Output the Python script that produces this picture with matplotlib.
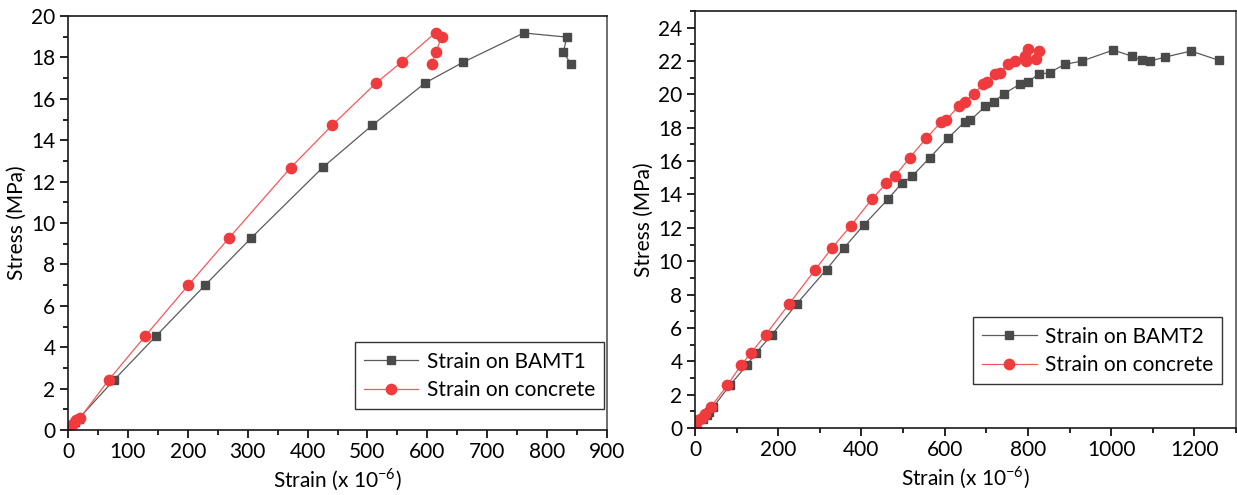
import matplotlib
matplotlib.use("Agg")
import matplotlib.pyplot as plt
from matplotlib.ticker import MultipleLocator

plt.rcParams['font.family'] = ['Lato', 'DejaVu Sans']

# ---- Left chart data (BAMT1) ----
bamt1_strain = [0, 12, 18, 77, 147, 229, 306, 426, 508, 596, 660, 761, 833, 827, 840]
bamt1_stress = [0, 0.40, 0.55, 2.42, 4.54, 7.00, 9.28, 12.70, 14.72, 16.76, 17.77, 19.18, 18.98, 18.25, 17.68]
conc1_strain = [0, 8, 14, 20, 68, 129, 201, 269, 372, 441, 515, 557, 614, 624, 614, 607]
conc1_stress = [0, 0.30, 0.48, 0.58, 2.42, 4.54, 7.00, 9.28, 12.68, 14.72, 16.78, 17.77, 19.20, 19.00, 18.24, 17.67]

# ---- Right chart data (BAMT2) ----
bamt2_strain = [0, 20, 28, 34, 44, 84, 124, 146, 185, 244, 316, 359, 405, 463, 498, 522,
                564, 609, 648, 662, 698, 718, 743, 780, 799, 826, 852, 888, 930, 1005,
                1049, 1073, 1094, 1130, 1192, 1258]
bamt2_stress = [0, 0.55, 0.75, 0.95, 1.26, 2.57, 3.75, 4.49, 5.60, 7.43, 9.50, 10.82, 12.15,
                13.70, 14.70, 15.10, 16.20, 17.40, 18.35, 18.45, 19.30, 19.55, 20.05, 20.60,
                20.75, 21.20, 21.30, 21.80, 22.00, 22.66, 22.30, 22.05, 22.00, 22.24, 22.60, 22.05]
conc2_strain = [2, 8, 16, 24, 38, 78, 110, 134, 170, 226, 289, 330, 375, 425, 460, 480, 516,
                556, 592, 604, 634, 648, 671, 691, 701, 722, 732, 752, 768, 794, 800, 796,
                820, 826]
conc2_stress = [0.02, 0.46, 0.62, 0.86, 1.26, 2.57, 3.75, 4.49, 5.60, 7.43, 9.50, 10.82, 12.14,
                13.72, 14.68, 15.10, 16.20, 17.39, 18.35, 18.49, 19.30, 19.55, 20.05, 20.60,
                20.75, 21.20, 21.30, 21.80, 22.00, 22.30, 22.70, 22.00, 22.10, 22.60]

gray_line = '#5a5a5a'
gray_mk = '#4a4a4a'
red_line = '#f25a5a'
red_mk = '#ef3b3d'

FS = 15

fig = plt.figure(figsize=(12.37, 4.95), dpi=100)
ax1 = fig.add_axes([68/1237, 1-430/495, (607-68)/1237, (430-16)/495])
ax2 = fig.add_axes([695/1237, 1-428/495, (1236-695)/1237, (428-11)/495])


def style(ax, xmaj, xmin, ymaj, ymin):
    ax.xaxis.set_major_locator(MultipleLocator(xmaj))
    ax.xaxis.set_minor_locator(MultipleLocator(xmin))
    ax.yaxis.set_major_locator(MultipleLocator(ymaj))
    ax.yaxis.set_minor_locator(MultipleLocator(ymin))
    ax.tick_params(which='major', direction='out', length=6, width=1.2, labelsize=FS,
                   colors='black', pad=3)
    ax.tick_params(which='minor', direction='out', length=3.5, width=1.2)
    ax.tick_params(top=False, right=False, which='both')
    for sp in ax.spines.values():
        sp.set_linewidth(1.2)
        sp.set_color('#1a1a1a')
    ax.spines['right'].set_color('#555555')
    ax.set_xlabel('Strain (x 10$^{\\mathregular{-6}}$)', fontsize=FS, labelpad=3)
    ax.set_ylabel('Stress (MPa)', fontsize=FS, labelpad=3)


ax1.plot(bamt1_strain, bamt1_stress, color=gray_line, lw=0.9, marker='s', ms=6.3,
         mfc=gray_mk, mec=gray_mk, label='Strain on BAMT1', clip_on=True)
ax1.plot(conc1_strain, conc1_stress, color=red_line, lw=0.9, marker='o', ms=7.4,
         mfc=red_mk, mec=red_mk, label='Strain on concrete', clip_on=True)
ax1.set_xlim(0, 900)
ax1.set_ylim(0, 20)
style(ax1, 100, 50, 2, 1)
leg1 = ax1.legend(loc='lower right', bbox_to_anchor=(0.995, 0.05), fontsize=FS,
                  frameon=True, fancybox=False, edgecolor='black', handlelength=2.6,
                  borderpad=0.45, labelspacing=0.4, handletextpad=0.4, borderaxespad=0.0)
leg1.get_frame().set_linewidth(1.0)

ax2.plot(bamt2_strain, bamt2_stress, color=gray_line, lw=0.9, marker='s', ms=6.3,
         mfc=gray_mk, mec=gray_mk, label='Strain on BAMT2')
ax2.plot(conc2_strain, conc2_stress, color=red_line, lw=0.9, marker='o', ms=7.4,
         mfc=red_mk, mec=red_mk, label='Strain on concrete')
ax2.set_xlim(0, 1300)
ax2.set_ylim(0, 25)
style(ax2, 200, 100, 2, 1)
leg2 = ax2.legend(loc='lower right', bbox_to_anchor=(0.975, 0.105), fontsize=FS,
                  frameon=True, fancybox=False, edgecolor='black', handlelength=2.6,
                  borderpad=0.45, labelspacing=0.4, handletextpad=0.4, borderaxespad=0.0)
leg2.get_frame().set_linewidth(1.0)

fig.savefig('out.png', dpi=100)
